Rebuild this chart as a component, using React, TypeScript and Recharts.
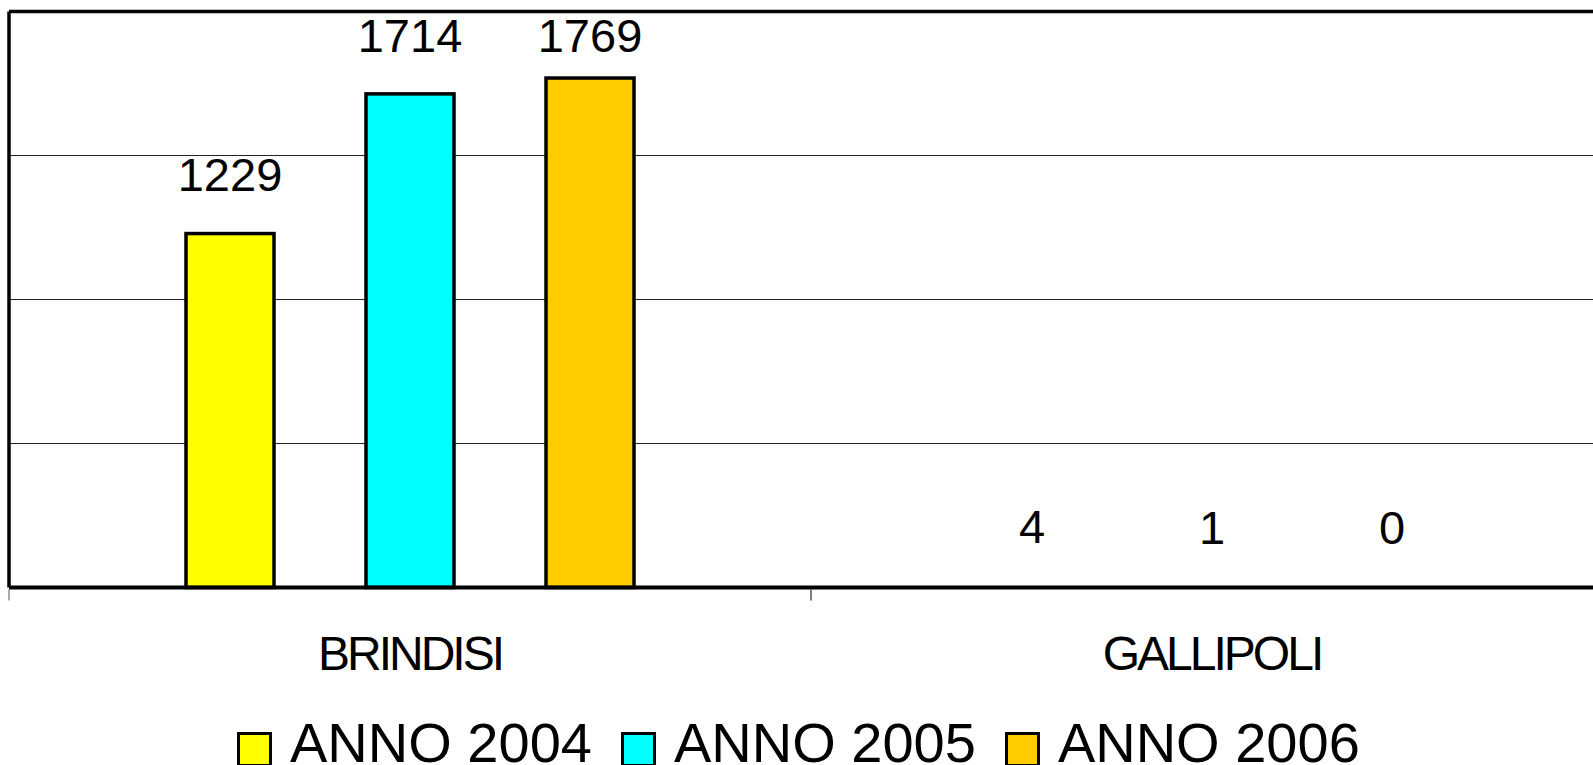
import React from 'react';
import { BarChart, Bar, XAxis, YAxis, CartesianGrid, LabelList, ReferenceLine } from 'recharts';

const FONT = '"Liberation Sans", Arial, sans-serif';

const categories = ['BRINDISI', 'GALLIPOLI'];
const anno2004 = [1229, 4];
const anno2005 = [1714, 1];
const anno2006 = [1769, 0];
const seriesKeys = ['a2004', 'a2005', 'a2006'];
const seriesNames = ['ANNO 2004', 'ANNO 2005', 'ANNO 2006'];
const seriesColors = ['#FFFF00', '#00FFFF', '#FFCC00'];
const yTicks = [0, 500, 1000, 1500, 2000];

const data = categories.map((name, i) => ({
  name,
  a2004: anno2004[i],
  a2005: anno2005[i],
  a2006: anno2006[i],
}));

// value label above the bar, pushed down when it would leave the frame
const ValueLabel = (props: any) => {
  const vb = props.viewBox && props.viewBox.width !== undefined ? props.viewBox : props;
  const x = Number(vb.x) + Number(vb.width) / 2;
  const baseline = Math.max(Number(vb.y) - 43, 52);
  return (
    <text x={x} y={baseline} textAnchor="middle" fontSize={47} fontFamily={FONT} fill="#000">
      {props.value}
    </text>
  );
};

// tiny bars sit under the thick axis line, so skip their outline
const BarShape = (props: any) => {
  const { x, y, width, height, fill } = props;
  const thin = Math.abs(Number(height)) < 3;
  return (
    <rect
      x={x}
      y={y}
      width={width}
      height={height}
      fill={fill}
      stroke={thin ? 'none' : '#000'}
      strokeWidth={3.5}
    />
  );
};

const CategoryTick = (props: any) => {
  const { x, y, payload } = props;
  const half = payload && payload.offset ? payload.offset : 401;
  return (
    <g>
      <line x1={x - half} x2={x - half} y1={y + 2} y2={y + 13} stroke="#555" strokeWidth={1} />
      <line x1={x + half} x2={x + half} y1={y + 2} y2={y + 13} stroke="#555" strokeWidth={1} />
      <text
        x={x}
        y={y + 82.5}
        textAnchor="middle"
        fontSize={48}
        letterSpacing={-3}
        fontFamily={FONT}
        fill="#000"
      >
        {payload.value}
      </text>
    </g>
  );
};

const NoTick = () => <g />;

const gridRows = (p: any) => {
  const s = p.yAxis && p.yAxis.scale;
  return yTicks.map((v) =>
    typeof s === 'function' ? s(v) : p.offset.top + p.offset.height * (1 - v / 2000)
  );
};

export default function App() {
  return (
    <div
      style={{
        position: 'fixed',
        left: 0,
        top: 0,
        width: 1593,
        height: 765,
        overflow: 'hidden',
        background: '#fff',
        fontFamily: FONT,
      }}
    >
      <BarChart
        width={1613}
        height={765}
        data={data}
        margin={{ top: 11.5, right: 0, bottom: 77.5, left: 8 }}
        barSize={88}
        barGap={92}
      >
        <CartesianGrid
          vertical={false}
          stroke="#222"
          strokeWidth={1}
          horizontalCoordinatesGenerator={gridRows}
        />
        <XAxis
          dataKey="name"
          height={100}
          axisLine={{ stroke: '#000', strokeWidth: 4 }}
          tickLine={false}
          tickSize={0}
          tickMargin={0}
          tick={<CategoryTick />}
          interval={0}
        />
        <YAxis
          width={1}
          domain={[0, 2000]}
          ticks={yTicks}
          tick={<NoTick />}
          tickLine={false}
          tickSize={0}
          axisLine={{ stroke: '#000', strokeWidth: 3.5 }}
        />
        <ReferenceLine y={2000} stroke="#000" strokeWidth={3.5} />
        {seriesKeys.map((k, i) => (
          <Bar
            key={k}
            dataKey={k}
            name={seriesNames[i]}
            fill={seriesColors[i]}
            stroke="#000"
            strokeWidth={3.5}
            minPointSize={1}
            shape={<BarShape />}
            isAnimationActive={false}
          >
            <LabelList dataKey={k} content={<ValueLabel />} />
          </Bar>
        ))}
      </BarChart>

      <div style={{ position: 'absolute', left: 237, top: 720.6, display: 'flex', alignItems: 'flex-start' }}>
        {seriesNames.map((n, i) => (
          <div key={n} style={{ display: 'flex', alignItems: 'flex-start', marginRight: 29 }}>
            <div
              style={{
                width: 35,
                height: 35,
                boxSizing: 'border-box',
                border: '3.5px solid #000',
                background: seriesColors[i],
                marginTop: 11.4,
                marginRight: 18,
              }}
            />
            <span style={{ fontSize: 56, lineHeight: '44px', color: '#000', whiteSpace: 'nowrap' }}>{n}</span>
          </div>
        ))}
      </div>
    </div>
  );
}
